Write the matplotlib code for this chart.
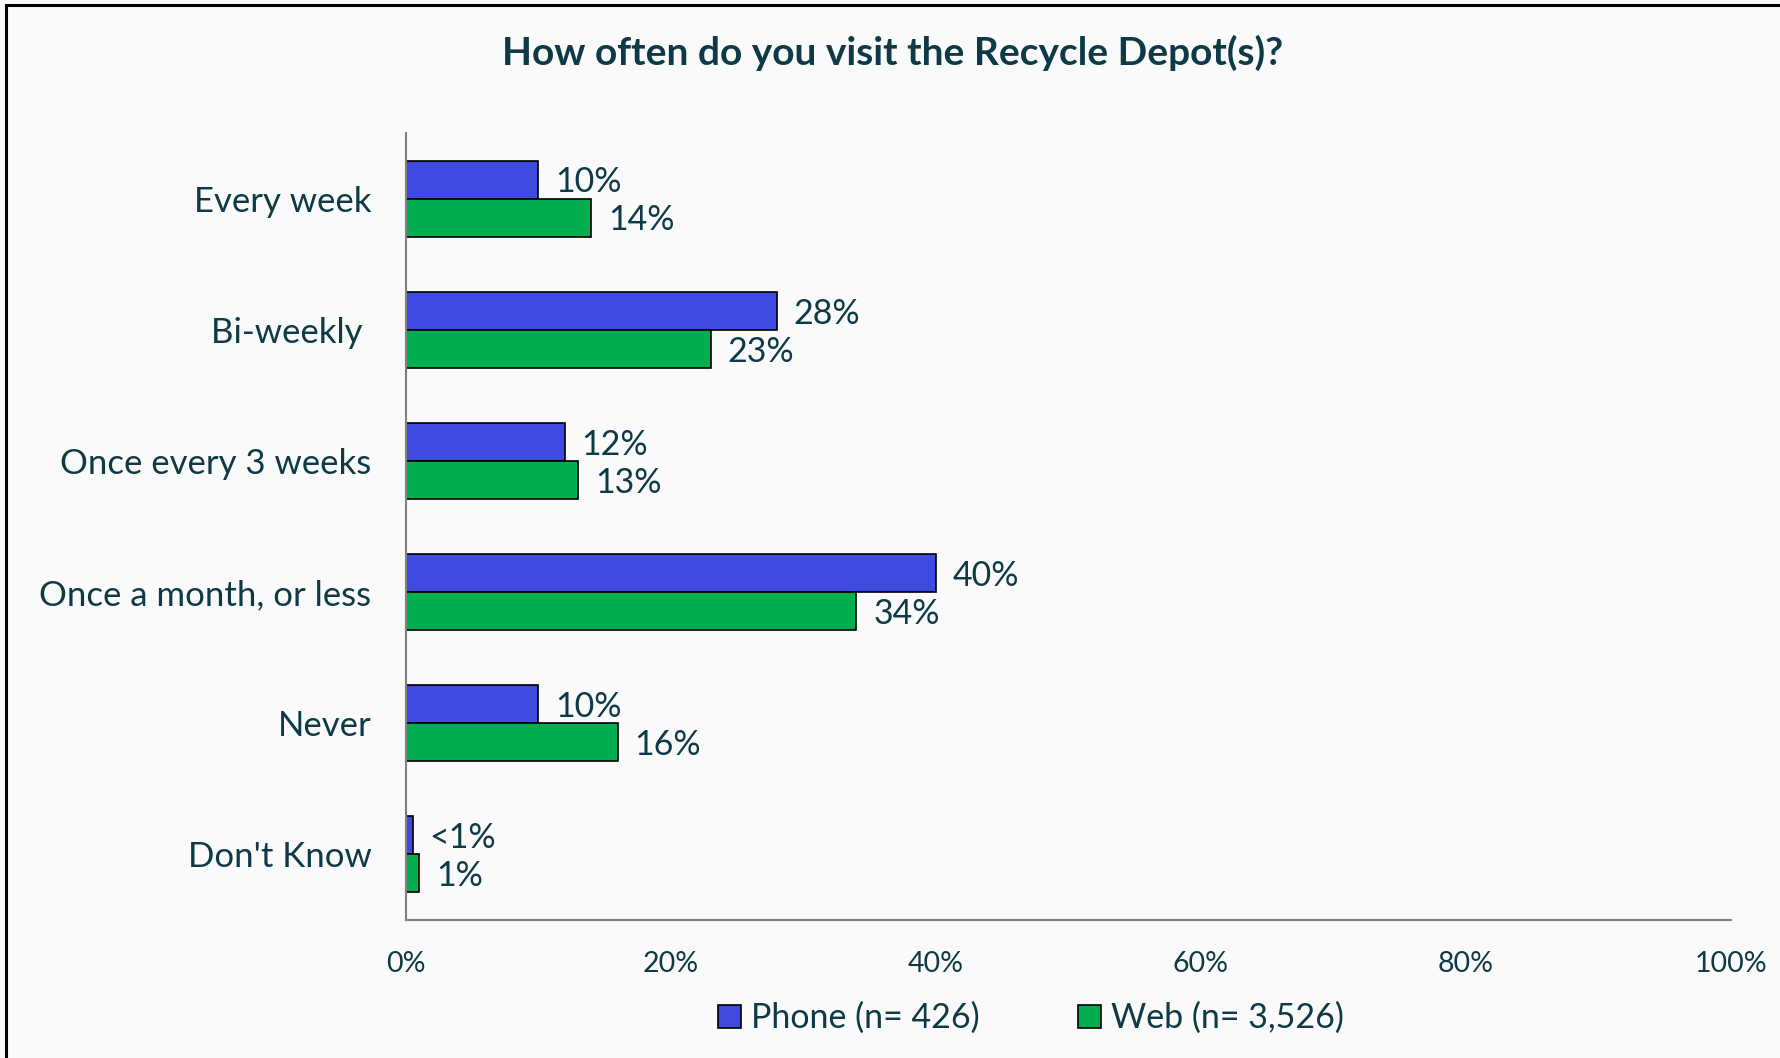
import matplotlib.pyplot as plt
import numpy as np
from matplotlib.patches import Rectangle

plt.rcParams["font.family"] = ["Lato", "DejaVu Sans"]

# Datos
categorias = ["Every week", "Bi-weekly ", "Once every 3 weeks",
              "Once a month, or less", "Never", "Don't Know"]
phone = [10, 28, 12, 40, 10, 0.5]
web = [14, 23, 13, 34, 16, 1]
series = ["Phone (n= 426)", "Web (n= 3,526)"]
ticks = [0, 20, 40, 60, 80, 100]

color_phone = "#3F4BE0"
color_web = "#00AE50"
color_texto = "#0E3A47"

W, H = 1781, 1058
fig = plt.figure(figsize=(W / 100, H / 100), dpi=100)
fig.patch.set_facecolor("#FAFAFA")

# Marco (solo se ven los bordes superior e izquierdo)
fig.patches.append(Rectangle((6 / W, -0.1), 1.2, 1 - 5 / H + 0.1,
                             transform=fig.transFigure, fill=False,
                             edgecolor="black", linewidth=2.2))

ax = fig.add_axes([406 / W, 1 - 920 / H, (1731 - 406) / W, (920 - 133) / H])
ax.set_facecolor("none")

y = np.arange(len(categorias))
h = 0.29
b1 = ax.barh(y - h / 2, phone, height=h, color=color_phone,
             edgecolor="black", linewidth=1.2, label=series[0])
b2 = ax.barh(y + h / 2, web, height=h, color=color_web,
             edgecolor="black", linewidth=1.2, label=series[1])

# Etiquetas de datos
for vals, yy in [(phone, y - h / 2), (web, y + h / 2)]:
    for v, yi in zip(vals, yy):
        txt = "<1%" if v < 1 else f"{v:.0f}%"
        ax.annotate(txt, (v, yi), xytext=(12, -2), textcoords="offset points",
                    va="center", ha="left", fontsize=24.5, color=color_texto)

ax.set_xlim(0, 100)
ax.set_ylim(len(categorias) - 0.5, -0.5)
ax.set_xticks(ticks)
ax.set_xticklabels([f"{t}%" for t in ticks])
ax.set_yticks(y)
ax.set_yticklabels(categorias)
ax.tick_params(axis="x", length=0, pad=22, labelsize=20.5, labelcolor=color_texto)
ax.tick_params(axis="y", length=0, pad=25, labelsize=25, labelcolor=color_texto)

for s in ["top", "right"]:
    ax.spines[s].set_visible(False)
for s in ["left", "bottom"]:
    ax.spines[s].set_color("#808080")
    ax.spines[s].set_linewidth(1.5)

fig.text(893 / W, 1 - 53 / H, "How often do you visit the Recycle Depot(s)?",
         ha="center", va="center", fontsize=28, fontweight="bold",
         color=color_texto)

leg = fig.legend(handles=[b1, b2], loc="center", ncol=2,
                 bbox_to_anchor=(1031 / W, 1 - 1018 / H), frameon=False,
                 fontsize=24.5, handlelength=0.67, handleheight=0.67,
                 handletextpad=0.3, columnspacing=2.9)
for t in leg.get_texts():
    t.set_color(color_texto)

plt.savefig("out.png", dpi=100, facecolor=fig.get_facecolor())
